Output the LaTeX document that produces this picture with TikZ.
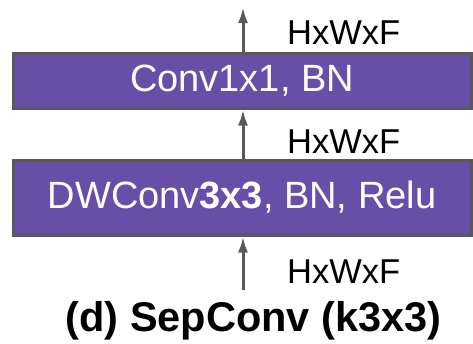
\documentclass[tikz,border=0pt]{standalone}
\usepackage{fontspec}
\setmainfont{Liberation Sans}
\usetikzlibrary{arrows.meta,positioning}
\definecolor{LayerPurple}{HTML}{674EA7}
\definecolor{EdgeGray}{HTML}{595959}

\begin{document}
\begin{tikzpicture}[x=1pt,y=-1pt, line cap=butt, >={Latex[length=16pt,width=10pt]},
  layerbox/.style={draw=EdgeGray, fill=LayerPurple, line width=3pt, text=white,
    minimum width=458pt, inner sep=0pt, font=\fontsize{38}{40}\selectfont},
  sizelbl/.style={anchor=west, inner sep=0pt, font=\fontsize{34.5}{36}\selectfont},
  flow/.style={->, EdgeGray, line width=3pt}]

\useasboundingbox (0,0) rectangle (473,343);

% layers
\node[layerbox, minimum height=55pt] (pw) at (242,80.5) {Conv1x1, BN};
\node[layerbox, minimum height=75pt] (dw) at (242,197.5) {DWConv\textbf{3x3}, BN, Relu};

% flow arrows
\coordinate (outtop) at (243,7);
\coordinate (inbot) at (243,290);
\draw[flow] (pw.north -| outtop) -- (outtop);
\draw[flow] (dw.north -| outtop) -- (pw.south -| outtop);
\draw[flow] (inbot) -- (dw.south -| inbot);

% tensor sizes
\node[sizelbl] (szout) at (287,33) {HxWxF};
\node[sizelbl] (szmid) at (287,142) {HxWxF};
\node[sizelbl] (szin) at (287,272) {HxWxF};

% caption
\node[font=\bfseries\fontsize{41.5}{43}\selectfont, inner sep=0pt] (cap) at (253.5,321) {(d) SepConv (k3x3)};

\end{tikzpicture}
\end{document}
